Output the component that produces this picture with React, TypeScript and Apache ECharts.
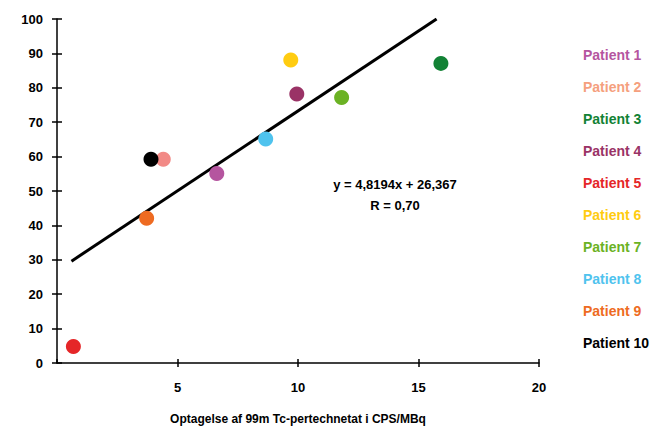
import React, { useEffect, useRef } from "react";
import * as echarts from "echarts";

const patients = ["Patient 1", "Patient 2", "Patient 3", "Patient 4", "Patient 5", "Patient 6", "Patient 7", "Patient 8", "Patient 9", "Patient 10"];
const xValues = [6.63, 4.41, 15.93, 9.95, 0.68, 9.7, 11.81, 8.66, 3.72, 3.9];
const yValues = [55.1, 59.2, 87.1, 78.2, 4.8, 88.1, 77.2, 65.1, 42.1, 59.2];
const colors = ["#B5559F", "#F28A86", "#128235", "#9A3366", "#E52628", "#FFCC11", "#6BB224", "#4FC3EE", "#EE6B22", "#000000"];
const legendColors = ["#B5559F", "#F5A07E", "#128235", "#9A3366", "#E52628", "#FFCC11", "#6BB224", "#4FC3EE", "#EE6B22", "#000000"];
const trendX = [0.6, 15.75];
const trendY = [29.6, 100];
const yTicks = [0, 100, 10];
const xTicks = [0, 20, 5];
const equation = "y = 4,8194x + 26,367";
const rText = "R = 0,70";
const xTitle = "Optagelse af 99m Tc-pertechnetat i CPS/MBq";

const FONT = "'Liberation Sans', Arial, sans-serif";

export default function App() {
  const ref = useRef<HTMLDivElement>(null);
  useEffect(() => {
    if (!ref.current) return;
    const chart = echarts.init(ref.current, null, { renderer: "svg" });
    const axisLine = { show: true, lineStyle: { color: "#000", width: 1.5 } };
    const labelStyle = { color: "#000", fontSize: 13, fontWeight: "bold" as const, fontFamily: FONT };
    const scatterSeries = patients.map((name, i) => ({
      name,
      type: "scatter",
      xAxisIndex: 0,
      yAxisIndex: 0,
      symbolSize: 15,
      itemStyle: { color: colors[i], opacity: 1 },
      data: [[xValues[i], yValues[i]]],
      z: 3,
    }));
    chart.setOption({
      animation: false,
      backgroundColor: "#fff",
      textStyle: { fontFamily: FONT },
      grid: { left: 57, right: 124, top: 19, bottom: 64, containLabel: false, outerBoundsMode: "none" },
      xAxis: [
        {
          type: "value",
          min: xTicks[0],
          max: xTicks[1],
          interval: xTicks[2],
          axisLine,
          axisTick: { show: true, inside: false, length: 4, lineStyle: { color: "#000", width: 1.5 } },
          axisLabel: { ...labelStyle, margin: 18, showMinLabel: false },
          splitLine: { show: false },
          name: xTitle,
          nameLocation: "middle",
          nameGap: 50,
          nameTextStyle: { color: "#000", fontSize: 12, fontWeight: "bold", fontFamily: FONT },
        },
        {
          type: "value",
          position: "bottom",
          min: xTicks[0],
          max: xTicks[1],
          interval: xTicks[2],
          axisLine: { show: false },
          axisTick: { show: true, inside: true, length: 4, lineStyle: { color: "#000", width: 1.5 } },
          axisLabel: { show: false },
          splitLine: { show: false },
        },
      ],
      yAxis: [
        {
          type: "value",
          min: yTicks[0],
          max: yTicks[1],
          interval: yTicks[2],
          axisLine,
          axisTick: { show: true, inside: false, length: 5, lineStyle: { color: "#000", width: 1.5 } },
          axisLabel: { ...labelStyle, margin: 14 },
          splitLine: { show: false },
        },
        {
          type: "value",
          position: "left",
          min: yTicks[0],
          max: yTicks[1],
          interval: yTicks[2],
          axisLine: { show: false },
          axisTick: { show: true, inside: true, length: 5, lineStyle: { color: "#000", width: 1.5 } },
          axisLabel: { show: false },
          splitLine: { show: false },
        },
      ],
      legend: {
        orient: "vertical",
        left: 578,
        top: 48,
        padding: 0,
        icon: "none",
        itemWidth: 0,
        itemHeight: 14,
        itemGap: 18,
        selectedMode: false,
        textStyle: { fontSize: 14, fontWeight: "bold", fontFamily: FONT },
        data: patients.map((name, i) => ({ name, textStyle: { color: legendColors[i] } })),
      },
      series: [
        {
          name: "trend",
          type: "line",
          xAxisIndex: 0,
          yAxisIndex: 0,
          showSymbol: false,
          symbol: "none",
          lineStyle: { color: "#000", width: 3 },
          data: trendX.map((x, i) => [x, trendY[i]]),
          z: 2,
          silent: true,
        },
        ...scatterSeries,
      ],
      graphic: [
        {
          type: "text",
          x: 395,
          y: 184,
          style: { text: equation, fill: "#000", font: `bold 13px ${FONT}`, align: "center", verticalAlign: "middle" },
        },
        {
          type: "text",
          x: 395,
          y: 205,
          style: { text: rText, fill: "#000", font: `bold 13px ${FONT}`, align: "center", verticalAlign: "middle" },
        },
      ],
    });
    return () => chart.dispose();
  }, []);
  return <div ref={ref} style={{ width: 663, height: 427, position: "absolute", left: 0, top: 0 }} />;
}
